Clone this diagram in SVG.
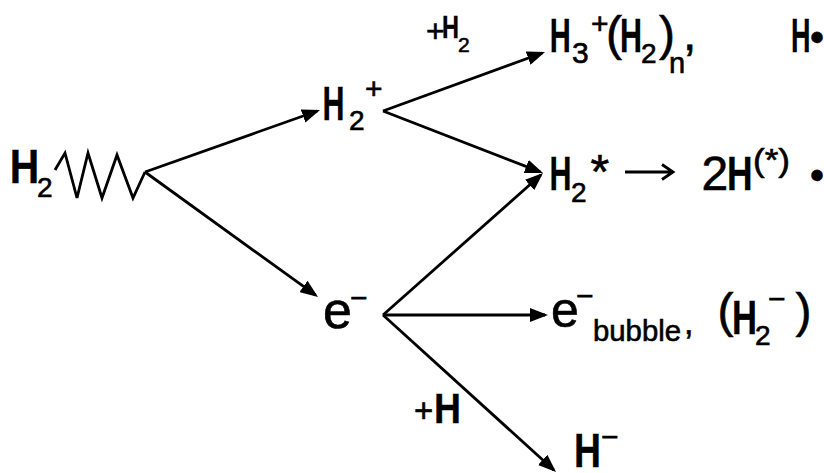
<svg xmlns="http://www.w3.org/2000/svg" width="824" height="473" viewBox="0 0 824 473">
<style>
.t{font-family:"Liberation Sans",Arial,sans-serif;fill:#000;stroke:#000;stroke-width:0.6}
.h{font-weight:bold;stroke-width:0.3}
.m{font-size:48px}
.s{font-size:28px}
.p{font-size:30px}
.d{font-size:40px}
.c{fill:none;stroke:#000;stroke-width:2.8;stroke-linejoin:miter}
</style>
<defs>
<marker id="ah" viewBox="0 0 18 14" markerWidth="18" markerHeight="14" refX="15" refY="7" orient="auto" markerUnits="userSpaceOnUse">
<path d="M0,0 L18,7 L0,14 z" fill="#000"/>
</marker>
</defs>
<rect width="824" height="473" fill="#fff"/>
<g id="connectors">
<path class="c" d="M55,170 L65,153 L77,198 L88,153 L102,198 L117,155 L133,198 L145,172"/>
<path class="c" d="M145,172 L317.2,111" marker-end="url(#ah)"/>
<path class="c" d="M145,172 L315.6,295.2" marker-end="url(#ah)"/>
<path class="c" d="M383,111 L542.2,53" marker-end="url(#ah)"/>
<path class="c" d="M383,111 L540.2,171.9" marker-end="url(#ah)"/>
<path class="c" d="M383,315 L540.8,175" marker-end="url(#ah)"/>
<path class="c" d="M383,315 L545,315" marker-end="url(#ah)"/>
<path class="c" d="M383,315 L553.8,470" marker-end="url(#ah)"/>
<g id="label-plus-h2">
<text class="t" style="font-size:32px" x="426" y="42">+</text>
<text class="t h" style="font-size:32px" x="442" y="38" textLength="17" lengthAdjust="spacingAndGlyphs">H</text>
<text class="t" style="font-size:21px" x="458" y="52">2</text>
</g>
<g id="label-plus-h">
<text class="t" style="font-size:33px" x="414" y="422">+</text>
<text class="t h" style="font-size:42px" x="434" y="423" textLength="27" lengthAdjust="spacingAndGlyphs">H</text>
</g>
</g>
<g id="n-h2">
<text class="t h m" x="9.8" y="183" textLength="29.5" lengthAdjust="spacingAndGlyphs">H</text>
<text class="t s" x="37" y="197">2</text>
</g>
<g id="n-h2plus">
<text class="t h m" x="322.6" y="120" textLength="22" lengthAdjust="spacingAndGlyphs">H</text>
<text class="t s" x="349" y="130">2</text>
<text class="t p" x="365" y="99">+</text>
</g>
<g id="n-electron">
<text class="t" style="font-size:52px" x="323" y="328">e</text>
<text class="t p" x="350" y="308">−</text>
</g>
<g id="n-h3plus">
<text class="t h m" x="549.7" y="52" textLength="21" lengthAdjust="spacingAndGlyphs">H</text>
<text class="t" style="font-size:30px" x="572" y="63">3</text>
<text class="t p" x="591" y="34">+</text>
<text class="t m" x="606" y="50">(</text>
<text class="t h m" x="620" y="52" textLength="22" lengthAdjust="spacingAndGlyphs">H</text>
<text class="t s" x="641" y="63">2</text>
<text class="t m" x="659" y="50">)</text>
<text class="t" style="font-size:29px" x="669" y="73">n</text>
<text class="t m" x="683" y="50">,</text>
<text class="t h m" x="790.9" y="52" textLength="19.5" lengthAdjust="spacingAndGlyphs">H</text>
<text class="t d" x="810" y="51">•</text>
</g>
<g id="n-h2star">
<text class="t h m" x="549.6" y="190" textLength="22" lengthAdjust="spacingAndGlyphs">H</text>
<text class="t s" x="571" y="202">2</text>
<text class="t m" x="590.6" y="188">*</text>
<path class="c" d="M625,172 L672,172 M662,164.5 L673,172 L662,179.5" stroke-width="3"/>
<text class="t m" x="701.5" y="190">2</text>
<text class="t h m" x="727" y="190" textLength="25.6" lengthAdjust="spacingAndGlyphs">H</text>
<text class="t" style="font-size:31px" x="753" y="171" textLength="37" lengthAdjust="spacingAndGlyphs">(*)</text>
<text class="t d" x="810" y="189">•</text>
</g>
<g id="n-ebubble">
<text class="t" style="font-size:50px" x="551" y="327">e</text>
<text class="t p" x="576" y="306">−</text>
<text class="t" style="font-size:29px" x="593" y="341" textLength="88" lengthAdjust="spacingAndGlyphs">bubble</text>
<text class="t" style="font-size:34px" x="684" y="334">,</text>
<text class="t m" x="717.6" y="327">(</text>
<text class="t h m" x="732" y="334" textLength="25" lengthAdjust="spacingAndGlyphs">H</text>
<text class="t s" x="755" y="345">2</text>
<text class="t p" x="768" y="309">−</text>
<text class="t m" x="795.6" y="327">)</text>
</g>
<g id="n-hminus">
<text class="t h m" x="574" y="467" textLength="27" lengthAdjust="spacingAndGlyphs">H</text>
<text class="t p" x="601" y="447">−</text>
</g>
</svg>
